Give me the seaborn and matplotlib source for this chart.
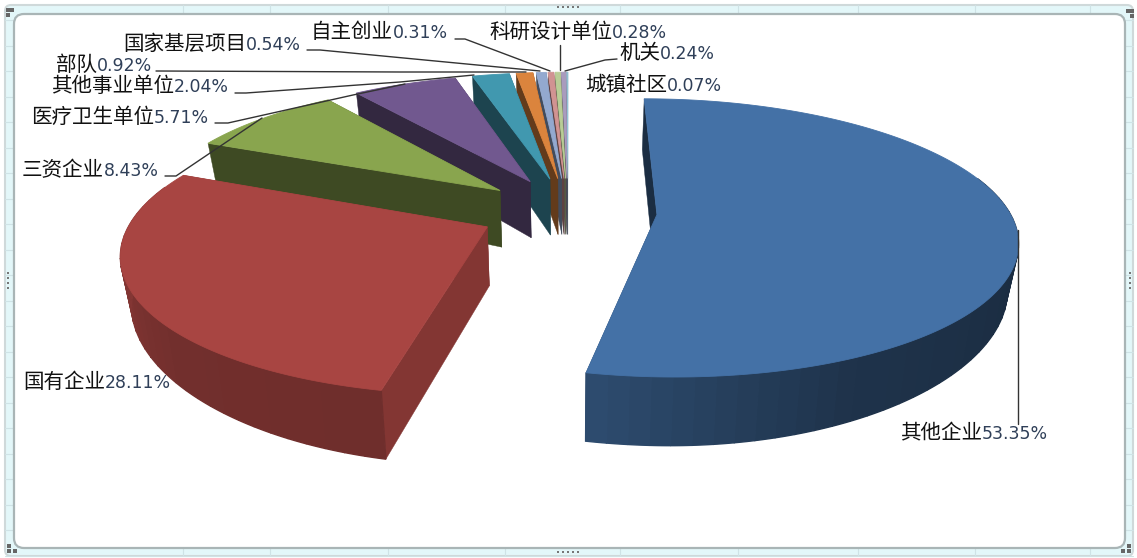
import numpy as np
import matplotlib
matplotlib.use("Agg")
import matplotlib.pyplot as plt
from matplotlib.patches import FancyBboxPatch, Polygon
import seaborn as sns

categories = ["其他企业", "国有企业", "三资企业", "医疗卫生单位", "其他事业单位", "部队",
              "国家基层项目", "自主创业", "科研设计单位", "机关", "城镇社区"]
shares = [53.35, 28.11, 8.43, 5.71, 2.04, 0.92, 0.54, 0.31, 0.28, 0.24, 0.07]
slice_colors = ["#4471A6", "#A84542", "#89A54E", "#71588F", "#4198AF", "#DB843D",
                "#93A9CF", "#D19392", "#B9CD96", "#A99BBD", "#92C3D5"]

# label layout: x of the join between name and percent, y of text centre
label_x = [982, 105, 104, 154, 174, 97, 246, 393, 612, 660, 667]
label_y = [433, 382, 170, 117, 86, 65, 44, 32, 32, 53, 85]

# leader lines, picture coordinates
leaders = [
    [(1018, 230), (1018, 424)],
    [(165, 176), (176, 176), (262, 118)],
    [(215, 123), (228, 123), (353, 95), (405, 84)],
    [(235, 93), (246, 93), (400, 82), (474, 75)],
    [(156, 71), (400, 72), (526, 72)],
    [(307, 50), (320, 50), (540, 71)],
    [(455, 39), (465, 39), (550, 71)],
    [(560, 45), (560, 70)],
    [(617, 59), (605, 60), (565, 71)],
]

# projection of the tilted pie
CX, CY = 568, 211
RX, RY = 352, 134
PERSP = 0.167
EXPLODE = 0.253
THICK = 58
BOTTOM_SHRINK = 0.975


def project(x, y):
    w = 1 + PERSP * y
    return CX + RX * x / w, CY - RY * y / w, w


def top_pts(theta, ox, oy, r=1.0):
    return project(ox + r * np.sin(theta), oy + r * np.cos(theta))


def bottom_pts(theta, ox, oy, r=1.0):
    px, py, w = top_pts(theta, ox, oy, r)
    x = ox + r * np.sin(theta)
    h = THICK / w ** 0.9 * (1 - 0.2 * np.clip(np.abs(x) - 0.2, 0, None) ** 2)
    return CX + (px - CX) * BOTTOM_SHRINK, py + h


sns.set_theme(style="white")
plt.rcParams['font.family'] = ['Noto Sans CJK SC', 'DejaVu Sans']

fig = plt.figure(figsize=(11.37, 5.58), dpi=100)
ax = fig.add_axes([0, 0, 1, 1])
ax.set_xlim(0, 1137)
ax.set_ylim(558, 0)
ax.axis("off")

# the worksheet frame round the chart
ax.add_patch(FancyBboxPatch((5, 5), 1128, 551, boxstyle="round,pad=0,rounding_size=6",
                            fc="#E3F7F9", ec="#CFD9DA", lw=1.5, zorder=0))
for gx in [183, 270, 388, 505, 620, 738, 858, 975, 1090]:
    ax.plot([gx, gx], [5, 556], color="#CFE3E6", lw=0.8, zorder=0.5)
for gy in np.arange(20, 556, 25.5):
    ax.plot([5, 1133], [gy, gy], color="#CFE3E6", lw=0.8, zorder=0.5)
ax.add_patch(FancyBboxPatch((14, 14), 1111, 534, boxstyle="round,pad=0,rounding_size=10",
                            fc="white", ec="#A9B5B6", lw=1.6, zorder=1))
handles_x = [8, 12, 8, 1128, 1132, 1132, 9, 15, 9, 1123, 1129, 1129]
handles_y = [10, 10, 15, 11, 11, 16, 546, 551, 551, 551, 546, 551]
ax.scatter(handles_x, handles_y, s=5, marker="s", color="#666666", lw=0, zorder=2)
ax.scatter([558, 563, 568, 573, 578], [7] * 5, s=4, marker="s", color="#777777", lw=0, zorder=2)
ax.scatter([558, 563, 568, 573, 578], [552] * 5, s=4, marker="s", color="#777777", lw=0, zorder=2)
ax.scatter([8] * 4, [273, 278, 283, 288], s=4, marker="s", color="#777777", lw=0, zorder=2)
ax.scatter([1130] * 4, [273, 278, 283, 288], s=4, marker="s", color="#777777", lw=0, zorder=2)

vals = np.array(shares)
edges = np.radians(np.concatenate([[0], np.cumsum(vals) / vals.sum() * 360]))
mids = (edges[:-1] + edges[1:]) / 2
palette = sns.color_palette(slice_colors)


def shade(col, f):
    return tuple(np.array(col) * f)


wall_near = [0.42, 0.85] + [0.42] * 9
wall_far = [0.40, 0.62] + [0.45] * 9

z = 3
# far slices first
for i in np.argsort(-np.cos(mids)):
    t0, t1 = edges[i], edges[i + 1]
    ox, oy = EXPLODE * np.sin(mids[i]), EXPLODE * np.cos(mids[i])
    ts = np.linspace(t0, t1, max(4, int(np.degrees(t1 - t0) / 3) + 2))
    ax_, ay_, _ = project(ox, oy)
    bx_, by_ = bottom_pts(0, ox, oy, 0)
    col = palette[i]
    radial = shade(col, wall_far[i] if i != 1 else 0.78)

    # radial walls
    for t in (t0, t1):
        px, py, _ = top_pts(t, ox, oy)
        qx, qy = bottom_pts(t, ox, oy)
        ax.add_patch(Polygon([(ax_, ay_), (px, py), (qx, qy), (bx_, by_)], fc=radial, ec=radial,
                             lw=0.3, zorder=z))
    # outer wall, as small bands so the shade can run along it
    for k in range(len(ts) - 1):
        # the far side of the rim is hidden by the top face anyway
        if np.cos((ts[k] + ts[k + 1]) / 2) > 0.3:
            continue
        t_fine = np.linspace(ts[k], ts[k + 1], 6)
        upper = [top_pts(t, ox, oy)[:2] for t in t_fine]
        lower = [bottom_pts(t, ox, oy) for t in t_fine[::-1]]
        frac = (ts[k] - t0) / (t1 - t0)
        if i == 0:
            # blue: darkest on the right, lighter at the near corner
            f = np.interp(frac, [0, 0.5, 0.8, 1], [0.38, 0.38, 0.45, 0.68])
        elif i == 1:
            f = np.interp(frac, [0, 0.35, 0.7, 1], [0.66, 0.68, 0.8, 0.85])
        else:
            f = wall_near[i]
        c = shade(col, f)
        ax.add_patch(Polygon(upper + lower, fc=c, ec=c, lw=1.0, zorder=z))
    # top face
    rim = [top_pts(t, ox, oy)[:2] for t in np.linspace(t0, t1, max(4, int(np.degrees(t1 - t0)) * 2 + 2))]
    ax.add_patch(Polygon([(ax_, ay_)] + rim, fc=col, ec=col, lw=0.6, zorder=z))
    z += 1

for pts in leaders:
    xs, ys = zip(*pts)
    ax.plot(xs, ys, color="#333333", lw=1.0, zorder=50)

for name, v, x, y in zip(categories, shares, label_x, label_y):
    ax.text(x, y, name, ha="right", va="center", fontsize=14.8, color="#111111",
            family="Noto Sans CJK SC", zorder=60)
    ax.text(x, y + 1, f"{v:.2f}%", ha="left", va="center", fontsize=12.5, color="#2F3F58",
            family="DejaVu Sans", zorder=60)

fig.savefig("out.png", dpi=100)
